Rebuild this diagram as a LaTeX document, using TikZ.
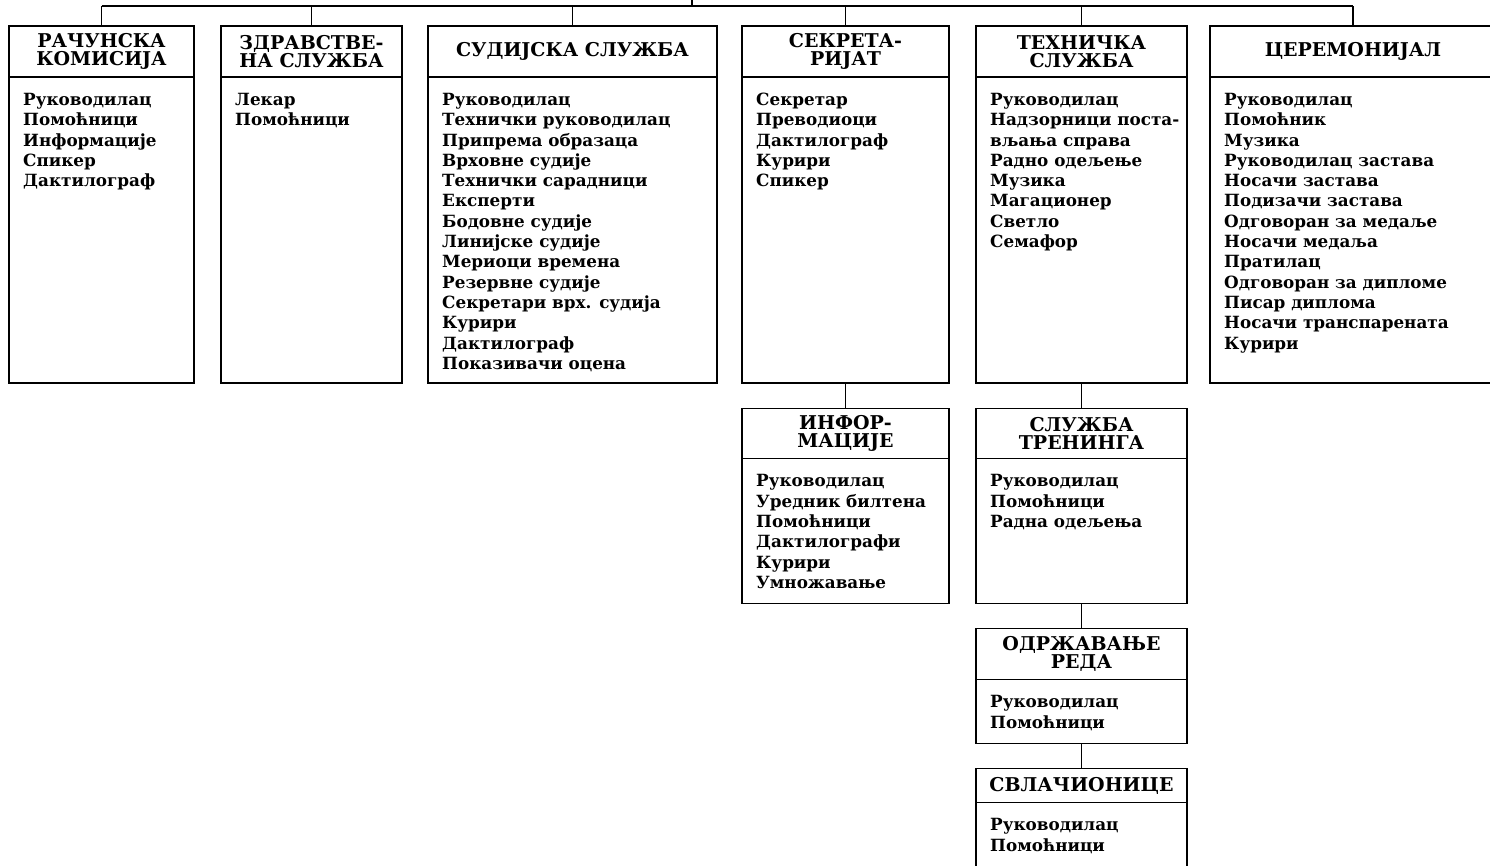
\documentclass[tikz,border=0pt]{standalone}
\usepackage{fontspec}
\setmainfont{DejaVu Serif}
\usetikzlibrary{positioning}
\newcommand{\headfont}{\bfseries\fontsize{19}{17.5}\selectfont}
\newcommand{\listfont}{\bfseries\fontsize{16.8}{20.3}\selectfont}
\tikzstyle{head} = [rectangle, draw, line width=1.5pt, outer sep=0pt, inner sep=0pt, align=center, font=\headfont]
\tikzstyle{body} = [rectangle, draw, line width=1.5pt, outer sep=0pt, inner sep=0pt]
\tikzstyle{list} = [anchor=north west, align=left, inner sep=0pt, font=\listfont]
\tikzstyle{line} = [draw, line width=1.5pt]

\begin{document}
\begin{tikzpicture}[x=1pt,y=-1pt]

\clip (0,0) rectangle (1490,865);
\useasboundingbox (0,0) rectangle (1490,865);

% first row
\node[head, minimum width=185, minimum height=51] (rk) at (101.5,51.5) {РАЧУНСКА\\КОМИСИЈА};
\node[body, minimum width=185, minimum height=306, below=0pt of rk] (rk-b) {};
\node[list] (rk-l) at ([xshift=14,yshift=-16]rk-b.north west) {Руководилац\\Помоћници\\Информације\\Спикер\\Дактилограф};

\node[head, minimum width=181, minimum height=51] (zs) at (311.5,51.5) {ЗДРАВСТВЕ-\\НА СЛУЖБА};
\node[body, minimum width=181, minimum height=306, below=0pt of zs] (zs-b) {};
\node[list] (zs-l) at ([xshift=14,yshift=-16]zs-b.north west) {Лекар\\Помоћници};

\node[head, minimum width=289, minimum height=51] (sud) at (572.5,51.5) {СУДИЈСКА СЛУЖБА};
\node[body, minimum width=289, minimum height=306, below=0pt of sud] (sud-b) {};
\node[list] (sud-l) at ([xshift=14,yshift=-16]sud-b.north west) {Руководилац\\Технички руководилац\\Припрема образаца\\Врховне судије\\Технички сарадници\\Експерти\\Бодовне судије\\Линијске судије\\Мериоци времена\\Резервне судије\\Секретари врх. судија\\Курири\\Дактилограф\\Показивачи оцена};

\node[head, minimum width=207, minimum height=51] (sek) at (845.5,51.5) {СЕКРЕТА-\\РИЈАТ};
\node[body, minimum width=207, minimum height=306, below=0pt of sek] (sek-b) {};
\node[list] (sek-l) at ([xshift=14,yshift=-16]sek-b.north west) {Секретар\\Преводиоци\\Дактилограф\\Курири\\Спикер};

\node[head, minimum width=211, minimum height=51] (teh) at (1081.5,51.5) {ТЕХНИЧКА\\СЛУЖБА};
\node[body, minimum width=211, minimum height=306, below=0pt of teh] (teh-b) {};
\node[list] (teh-l) at ([xshift=14,yshift=-16]teh-b.north west) {Руководилац\\Надзорници поста-\\вљања справа\\Радно одељење\\Музика\\Магационер\\Светло\\Семафор};

\node[head, minimum width=286, minimum height=51] (cer) at (1353,51.5) {ЦЕРЕМОНИЈАЛ};
\node[body, minimum width=286, minimum height=306, below=0pt of cer] (cer-b) {};
\node[list] (cer-l) at ([xshift=14,yshift=-16]cer-b.north west) {Руководилац\\Помоћник\\Музика\\Руководилац застава\\Носачи застава\\Подизачи застава\\Одговоран за медаље\\Носачи медаља\\Пратилац\\Одговоран за дипломе\\Писар диплома\\Носачи транспарената\\Курири};

% lower boxes
\node[head, minimum width=207, minimum height=50] (inf) at (845.5,433.5) {ИНФОР-\\МАЦИЈЕ};
\node[body, minimum width=207, minimum height=145, below=0pt of inf] (inf-b) {};
\node[list] (inf-l) at ([xshift=14,yshift=-16]inf-b.north west) {Руководилац\\Уредник билтена\\Помоћници\\Дактилографи\\Курири\\Умножавање};

\node[head, minimum width=211, minimum height=50] (tr) at (1081.5,433.5) {СЛУЖБА\\ТРЕНИНГА};
\node[body, minimum width=211, minimum height=145, below=0pt of tr] (tr-b) {};
\node[list] (tr-l) at ([xshift=14,yshift=-16]tr-b.north west) {Руководилац\\Помоћници\\Радна одељења};

\node[head, minimum width=211, minimum height=51, below=25pt of tr-b] (red) {ОДРЖАВАЊЕ\\РЕДА};
\node[body, minimum width=211, minimum height=64, below=0pt of red] (red-b) {};
\node[list] (red-l) at ([xshift=14,yshift=-16]red-b.north west) {Руководилац\\Помоћници};

\node[head, minimum width=211, minimum height=34, below=25pt of red-b] (svl) {СВЛАЧИОНИЦЕ};
\node[body, minimum width=211, minimum height=120, below=0pt of svl] (svl-b) {};
\node[list] (svl-l) at ([xshift=14,yshift=-16]svl-b.north west) {Руководилац\\Помоћници};

% connectors
\coordinate (bus) at (692,6);
\coordinate (up) at (692,-2);
\path[line] (up) -- (bus);
\path[line] (rk.north |- bus) -- (cer.north |- bus);
\foreach \n in {rk,zs,sud,sek,teh,cer}
  \path[line] (\n.north) -- (\n.north |- bus);
\path[line] (sek-b.south) -- (inf.north);
\path[line] (teh-b.south) -- (tr.north);
\path[line] (tr-b.south) -- (red.north);
\path[line] (red-b.south) -- (svl.north);

\end{tikzpicture}
\end{document}
